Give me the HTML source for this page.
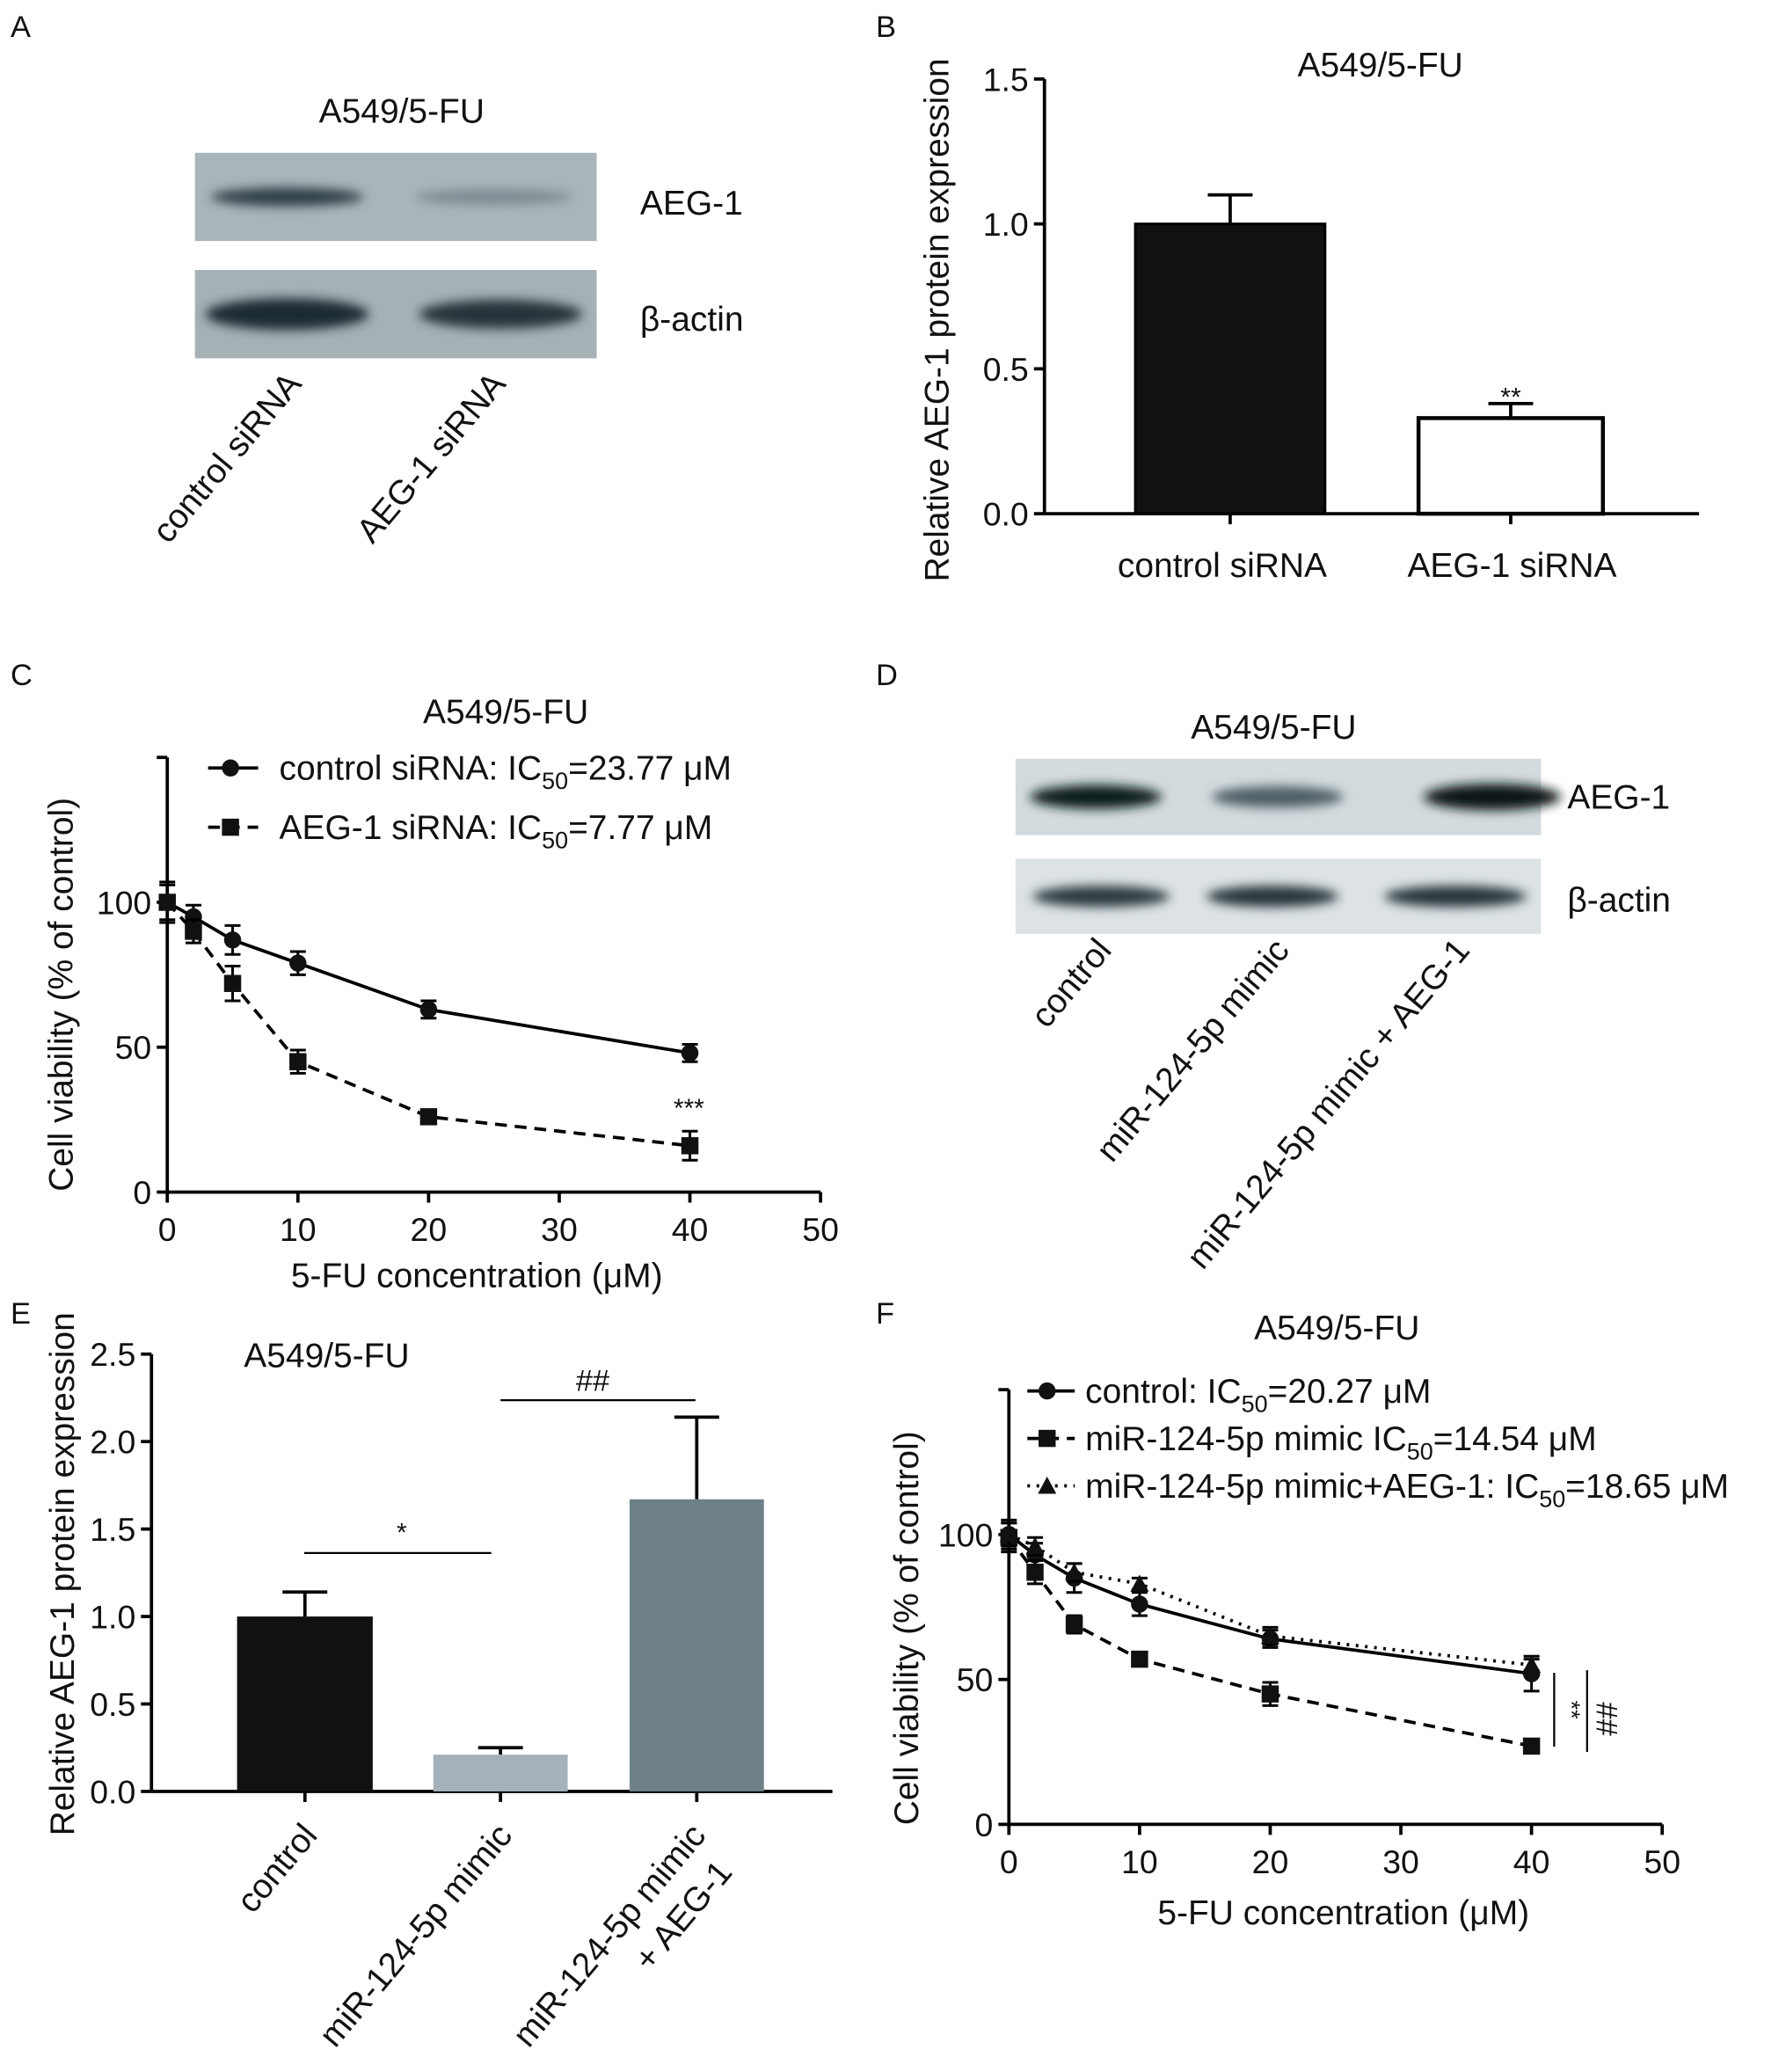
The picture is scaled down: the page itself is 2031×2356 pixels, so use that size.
<!DOCTYPE html>
<html><head><meta charset="utf-8"><style>
html,body{margin:0;padding:0;background:#fff}
svg{display:block;font-family:"Liberation Sans",Arial,sans-serif}
</style></head><body>
<svg id="fig" xmlns="http://www.w3.org/2000/svg" width="2031" height="2356" viewBox="0 0 1356 1573">
<defs>
<filter id="blur" x="-20%" y="-100%" width="140%" height="300%"><feGaussianBlur stdDeviation="4"/></filter>
</defs>
<g id="root"></g>
</svg>
<script>
// ---- Data ----
const bCats = ["control siRNA","AEG-1 siRNA"];
const bVals = [1.0, 0.33];
const bErr = [0.10, 0.05];
const cX = [0,2,5,10,20,40];
const cCtrl = [100,95,87,79,63,48];
const cCtrlErr = [6,4,5,4,3,3];
const cSi = [100,90,72,45,26,16];
const cSiErr = [7,4,6,4,2,5];
const eCats = ["control","miR-124-5p mimic","miR-124-5p mimic + AEG-1"];
const eVals = [1.0, 0.21, 1.67];
const eErr = [0.14, 0.04, 0.47];
const fX = [0,2,5,10,20,40];
const fCtrl = [100,93,85,76,64,52];
const fCtrlErr = [5,4,5,4,3,6];
const fMim = [99,87,69,57,45,27];
const fMimErr = [5,4,3,2,4,1];
const fAeg = [100,96,87,83,65,55];
const fAegErr = [4,3,3,2,3,2];
const tickB = ["0.0","0.5","1.0","1.5"];
const tickE = ["0.0","0.5","1.0","1.5","2.0","2.5"];
const tickX = ["0","10","20","30","40","50"];

const NS="http://www.w3.org/2000/svg";
const root=document.getElementById('root');
const FS=26, TS=25;
function el(tag,attrs,parent,text){const e=document.createElementNS(NS,tag);for(const k in attrs)e.setAttribute(k,attrs[k]);if(text!==undefined)e.textContent=text;(parent||root).appendChild(e);return e;}
function line(x1,y1,x2,y2,w,p,dash){const l=el('line',{x1,y1,x2,y2,stroke:'#000','stroke-width':w||2},p);if(dash)l.setAttribute('stroke-dasharray',dash);return l;}
function txt(x,y,s,size,anchor,p,rot){const t=el('text',{x,y,'font-size':size,'text-anchor':anchor||'start',fill:'#111'},p,s);if(rot!==undefined)t.setAttribute('transform',`rotate(${rot} ${x} ${y})`);return t;}

[["A",8,28],["B",665,28],["C",8,520],["D",665,520],["E",8,1005],["F",665,1005]].forEach(([s,x,y])=>{const t=txt(x,y,s,23);});

function blot(x,y,w,h,bg,bands,name){
  const g=el('g',{});
  
  
  el('rect',{x,y,width:w,height:h,fill:bg},g);
  bands.forEach(b=>{el('ellipse',{cx:b[0],cy:y+h/2,rx:b[1],ry:b[2],fill:b[3],filter:'url(#blur)'},g);});
}
txt(305,93,"A549/5-FU",FS,'middle');
blot(148,116,305,67,'#aab5ba',[[218,58,7,'#2e3d44'],[375,60,6,'#7d8b92']],'aeg1-blot-a');
blot(148,205,305,67,'#a6b1b6',[[218,62,12,'#1e2a30'],[380,62,11,'#26343a']],'actin-blot-a');
txt(486,163,"AEG-1",FS);
txt(486,251,"β-actin",FS);
txt(230,292,"control siRNA",FS,'end',null,-50);
txt(385,292,"AEG-1 siRNA",FS,'end',null,-50);

txt(967,561,"A549/5-FU",FS,'middle');
blot(771,576,399,58,'#d3dbde',[[832,50,9,'#0f1a1e'],[970,50,8,'#4d5d64'],[1133,52,10,'#0a1418']],'aeg1-blot-d');
blot(771,652,399,57,'#dde3e5',[[836,52,8,'#2c3a40'],[966,50,8,'#27353b'],[1105,54,8,'#27353b']],'actin-blot-d');
txt(1190,614,"AEG-1",FS);
txt(1190,692,"β-actin",FS);
txt(845,722,"control",FS,'end',null,-50);
txt(980,722,"miR-124-5p mimic",FS,'end',null,-50);
txt(1117,722,"miR-124-5p mimic + AEG-1",FS,'end',null,-50);

function barChart(o){
  const g=el('g',{});
  
  
  const y=v=>o.y0-(v/o.max)*(o.y0-o.yTop);
  line(o.x0,o.yTop,o.x0,o.y0,2.5,g);
  line(o.x0,o.y0,o.xEnd,o.y0,2.5,g);
  o.ticks.forEach((t,i)=>{const v=parseFloat(t);line(o.x0-8,y(v),o.x0,y(v),2.5,g);txt(o.x0-12,y(v)+9,t,TS,'end',g);});
  o.vals.forEach((v,i)=>{
    const bx=o.bars[i][0],bw=o.bars[i][1]-o.bars[i][0],cx=bx+bw/2;
    line(cx,y(v+o.err[i]),cx,y(v),2.5,g);
    line(cx-17,y(v+o.err[i]),cx+17,y(v+o.err[i]),2.5,g);
    const r=el('rect',{x:bx,y:y(v),width:bw,height:o.y0-y(v),fill:o.fill[i],stroke:'#000','stroke-width':o.sw[i]},g);
    
    
    line(cx,o.y0,cx,o.y0+8,2.5,g);
  });
  return {g,y};
}
const B=barChart({name:'chart-b',x0:793,y0:390,yTop:60,max:1.5,xEnd:1290,ticks:tickB,vals:bVals,err:bErr,bars:[[862,1006],[1077,1217]],fill:['#111','#fff'],sw:[2,3]});
txt(1048,58,"A549/5-FU",FS,'middle',B.g);
txt(1147,308,"**",20,'middle',B.g);
txt(928,438,bCats[0],FS,'middle',B.g);
txt(1148,438,bCats[1],FS,'middle',B.g);
txt(720,243,"Relative AEG-1 protein expression",FS,'middle',B.g,-90);

const E=barChart({name:'chart-e',x0:115,y0:1360,yTop:1028,max:2.5,xEnd:632,ticks:tickE,vals:eVals,err:eErr,bars:[[180,283],[329,431],[478,580]],fill:['#111','#a5b1ba','#6f8188'],sw:[0,0,0]});
txt(248,1038,"A549/5-FU",FS,'middle',E.g);
line(231,1179,373,1179,1.5,E.g);txt(305,1170,"*",20,'middle',E.g);
line(380,1063,528,1063,1.5,E.g);txt(450,1056,"##",23,'middle',E.g);
txt(56,1195,"Relative AEG-1 protein expression",FS,'middle',E.g,-90);
txt(242,1394,"control",FS,'end',E.g,-50);
txt(390,1394,"miR-124-5p mimic",FS,'end',E.g,-50);
txt(537,1394,"miR-124-5p mimic",FS,'end',E.g,-50);
txt(557,1422,"+ AEG-1",FS,'end',E.g,-50);

function lineChart(o){
  const g=el('g',{});
  
  
  const X=v=>o.x0+v*(o.x50-o.x0)/50;
  const Y=v=>o.y0-v*(o.y0-o.y100)/100;
  line(o.x0,o.yTop,o.x0,o.y0,2.5,g);
  line(o.x0,o.y0,o.x50,o.y0,2.5,g);
  tickX.forEach(t=>{const v=+t;line(X(v),o.y0,X(v),o.y0+8,2.5,g);txt(X(v),o.y0+37,t,TS,'middle',g);});
  [0,50,100].forEach(v=>{line(o.x0-8,Y(v),o.x0,Y(v),2.5,g);txt(o.x0-12,Y(v)+9,String(v),TS,'end',g);});
  line(o.x0-8,o.yTop,o.x0,o.yTop,2.5,g);
  o.series.forEach(s=>{
    const sg=el('g',{},g);
    
    
    const pts=o.xs.map((x,i)=>X(x)+','+Y(s.vals[i])).join(' ');
    const pl=el('polyline',{points:pts,fill:'none',stroke:'#000','stroke-width':2.5},sg);
    if(s.dash)pl.setAttribute('stroke-dasharray',s.dash);
    o.xs.forEach((x,i)=>{
      const cx=X(x),cy=Y(s.vals[i]),e=s.err[i];
      line(cx,Y(s.vals[i]+e),cx,Y(s.vals[i]-e),2,sg);
      line(cx-6,Y(s.vals[i]+e),cx+6,Y(s.vals[i]+e),2,sg);
      line(cx-6,Y(s.vals[i]-e),cx+6,Y(s.vals[i]-e),2,sg);
      marker(s.m,cx,cy,sg);
    });
  });
  return {g,X,Y};
}
function marker(m,cx,cy,p){
  if(m==='c')el('circle',{cx,cy,r:6.5,fill:'#111'},p);
  else if(m==='s')el('rect',{x:cx-6.5,y:cy-6.5,width:13,height:13,fill:'#111'},p);
  else el('polygon',{points:`${cx},${cy-7} ${cx+7},${cy+6} ${cx-7},${cy+6}`,fill:'#111'},p);
}
const C=lineChart({name:'chart-c',x0:127,x50:623,y0:905,y100:685,yTop:575,xs:cX,series:[
 {name:'series-control-sirna',vals:cCtrl,err:cCtrlErr,m:'c'},
 {name:'series-aeg1-sirna',vals:cSi,err:cSiErr,m:'s',dash:'9 6'}]});
txt(384,549,"A549/5-FU",FS,'middle',C.g);
line(158,583,196,583,2.5,C.g);marker('c',175,583,C.g);
line(158,628,196,628,2.5,C.g,'9 6');marker('s',175,628,C.g);
const t1=txt(212,592,"",FS,'start',C.g);t1.innerHTML='control siRNA: IC<tspan font-size="18" dy="7">50</tspan><tspan dy="-7">=23.77 μM</tspan>';
const t2=txt(212,637,"",FS,'start',C.g);t2.innerHTML='AEG-1 siRNA: IC<tspan font-size="18" dy="7">50</tspan><tspan dy="-7">=7.77 μM</tspan>';
txt(523,848,"***",20,'middle',C.g);
txt(362,977,"5-FU concentration (μM)",FS,'middle',C.g);
txt(55,755,"Cell viability (% of control)",FS,'middle',C.g,-90);

const F=lineChart({name:'chart-f',x0:766,x50:1262,y0:1385,y100:1165,yTop:1055,xs:fX,series:[
 {name:'series-control',vals:fCtrl,err:fCtrlErr,m:'c'},
 {name:'series-mimic',vals:fMim,err:fMimErr,m:'s',dash:'9 6'},
 {name:'series-mimic-aeg1',vals:fAeg,err:fAegErr,m:'t',dash:'2 5'}]});
txt(1015,1017,"A549/5-FU",FS,'middle',F.g);
line(780,1056,816,1056,2.5,F.g);marker('c',795,1056,F.g);
line(780,1092,816,1092,2.5,F.g,'9 6');marker('s',795,1092,F.g);
line(780,1128,816,1128,2.5,F.g,'2 5');marker('t',795,1128,F.g);
const f1=txt(824,1065,"",FS,'start',F.g);f1.innerHTML='control: IC<tspan font-size="18" dy="7">50</tspan><tspan dy="-7">=20.27 μM</tspan>';
const f2=txt(824,1101,"",FS,'start',F.g);f2.innerHTML='miR-124-5p mimic IC<tspan font-size="18" dy="7">50</tspan><tspan dy="-7">=14.54 μM</tspan>';
const f3=txt(824,1137,"",FS,'start',F.g);f3.innerHTML='miR-124-5p mimic+AEG-1: IC<tspan font-size="18" dy="7">50</tspan><tspan dy="-7">=18.65 μM</tspan>';
line(1180,1270,1180,1326,1.5,F.g);
line(1205,1268,1205,1330,1.5,F.g);
txt(1187,1298,"**",18,'middle',F.g,90);
txt(1212,1305,"##",23,'middle',F.g,90);
txt(1020,1461,"5-FU concentration (μM)",FS,'middle',F.g);
txt(697,1236,"Cell viability (% of control)",FS,'middle',F.g,-90);
</script>
</body></html>
